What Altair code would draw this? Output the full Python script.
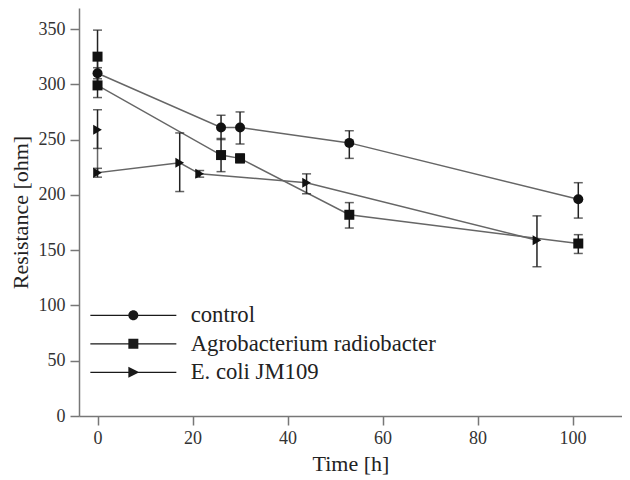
import altair as alt
import pandas as pd

series_names = ["control", "Agrobacterium radiobacter", "E. coli JM109"]

control_t = [0, 26, 30, 53, 101.2]
control_v = [310, 261, 261, 247, 196]
control_lo = [305, 250, 246, 233, 179]
control_hi = [315, 272, 275, 258, 211]

agro_t = [0, 0, 26, 30, 53, 101.2]
agro_v = [325, 299, 236, 233, 182, 156]
agro_lo = [301, 288, 221, 229, 170, 147]
agro_hi = [349, 310, 251, 237, 193, 164]

ecoli_t = [0, 0, 17.3, 21.5, 44, 92.5]
ecoli_v = [259, 220, 229, 219, 211, 159]
ecoli_lo = [242, 216, 203, 216, 201, 135]
ecoli_hi = [277, 224, 256, 222, 219, 181]

x_ticks = [0, 20, 40, 60, 80, 100]
y_ticks = [0, 50, 100, 150, 200, 250, 300, 350]

rows = []
for name, ts, vs, los, his in [
    (series_names[0], control_t, control_v, control_lo, control_hi),
    (series_names[1], agro_t, agro_v, agro_lo, agro_hi),
    (series_names[2], ecoli_t, ecoli_v, ecoli_lo, ecoli_hi),
]:
    for i, (t, v, lo, hi) in enumerate(zip(ts, vs, los, his)):
        rows.append({"series": name, "idx": i, "t": t, "v": v, "lo": lo, "hi": hi})
df = pd.DataFrame(rows)

FONT = "Liberation Serif"

x_enc = alt.X("t:Q", scale=alt.Scale(domain=[-3.9, 110.4], nice=False, zero=False),
              axis=alt.Axis(values=x_ticks, title="Time [h]", grid=False))
y_scale = alt.Scale(domain=[0, 369], nice=False)
y_enc = alt.Y("v:Q", scale=y_scale,
              axis=alt.Axis(values=y_ticks, title="Resistance [ohm]", grid=False))

base = alt.Chart(df)

lines = base.mark_line(color="#666666", strokeWidth=1.5).encode(
    x=x_enc, y=y_enc, detail="series:N", order="idx:Q"
)

err = base.mark_rule(color="#222222", strokeWidth=1.5).encode(
    x="t:Q", y=alt.Y("lo:Q", scale=y_scale), y2="hi:Q"
)
cap_lo = base.mark_tick(orient="horizontal", size=9, thickness=1.5, color="#222222").encode(
    x="t:Q", y=alt.Y("lo:Q", scale=y_scale)
)
cap_hi = base.mark_tick(orient="horizontal", size=9, thickness=1.5, color="#222222").encode(
    x="t:Q", y=alt.Y("hi:Q", scale=y_scale)
)

points = base.mark_point(filled=True, color="#111111", opacity=1, size=100).encode(
    x="t:Q", y="v:Q",
    shape=alt.Shape("series:N", scale=alt.Scale(domain=series_names,
                                                range=["circle", "square", "triangle-right"]),
                    legend=None),
)

LINE = "M-8.6,-0.14H8.6V0.14H-8.6Z"
legend_paths = [
    LINE + "M-1,0A1,1,0,1,1,1,0A1,1,0,1,1,-1,0Z",
    LINE + "M-1,-1H1V1H-1Z",
    LINE + "M-1,-1.1L1.2,0L-1,1.1Z",
]
legend_layer = base.mark_point(filled=True, color="#1a1a1a", opacity=1).encode(
    x="t:Q", y="v:Q",
    shape=alt.Shape("series:N", scale=alt.Scale(domain=series_names, range=legend_paths),
                    legend=alt.Legend(title=None, orient="none", legendX=43, legendY=296,
                                      symbolSize=100, symbolFillColor="#1a1a1a",
                                      symbolOpacity=1, symbolStrokeWidth=0,
                                      labelFont=FONT, labelFontSize=22.7,
                                      labelColor="#222222", labelOffset=46, rowPadding=4.5,
                                      padding=0, labelLimit=400)),
).transform_filter("false")

chart = alt.layer(lines, err, cap_lo, cap_hi, points, legend_layer).resolve_scale(
    shape="independent"
).properties(
    width=543, height=408,
    autosize=alt.AutoSizeParams(type="none"),
    padding={"left": 71, "top": 0, "right": 0, "bottom": 60},
).configure(font=FONT).configure_view(stroke=None).configure_axis(
    domainColor="#777777", domainWidth=1.5, tickColor="#777777", tickWidth=1.5,
    tickSize=9, labelFont=FONT, labelFontSize=18, labelColor="#333333",
    titleFont=FONT, titleFontSize=22, titleFontWeight="normal", titleColor="#222222",
).configure_axisY(labelPadding=5, titlePadding=6).configure_axisX(labelPadding=4, titlePadding=6)

chart.save("out.html", embed_options={"renderer": "svg", "actions": False})
